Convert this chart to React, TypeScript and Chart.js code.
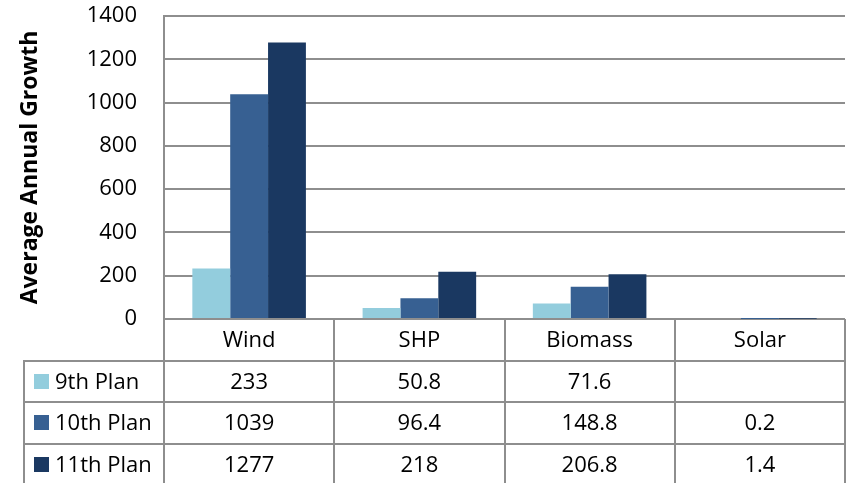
import { useEffect, useRef } from "react";
import { Chart, registerables } from "chart.js";

Chart.register(...registerables);

// ---- data ----
const categories = ["Wind", "SHP", "Biomass", "Solar"];
const seriesNames = ["9th Plan", "10th Plan", "11th Plan"];
const plan9: (number | null)[] = [233, 50.8, 71.6, null];
const plan10: (number | null)[] = [1039, 96.4, 148.8, 0.2];
const plan11: (number | null)[] = [1277, 218, 206.8, 1.4];
const seriesColors = ["#93CDDD", "#376092", "#1A3861"];
const yTitle = "Average Annual Growth";
const yMin = 0;
const yMax = 1400;
const yStep = 200;

const GRID = "#8E8E8E";
const FONT = "'Open Sans', Lato, sans-serif";

const tablePlugin = {
  id: "dataTable",
  afterDraw(chart: any) {
    const { ctx, chartArea, scales } = chart;
    const x = scales.x;
    const n = categories.length;
    const catW = (x.right - x.left) / n;
    const top = chartArea.bottom;
    const rowH = 41.5;
    const legendLeft = 24;
    const right = chartArea.right;
    const bottom = chart.height + 4;
    const datasets = chart.data.datasets;

    ctx.save();
    ctx.strokeStyle = GRID;
    ctx.lineWidth = 2;
    ctx.beginPath();
    for (let r = 1; r <= datasets.length; r++) {
      const y = Math.round(top + r * rowH);
      ctx.moveTo(legendLeft, y);
      ctx.lineTo(right, y);
    }
    for (let i = 0; i <= n; i++) {
      const bx = Math.round(x.left + i * catW);
      ctx.moveTo(bx, top);
      ctx.lineTo(bx, bottom);
    }
    ctx.moveTo(legendLeft, Math.round(top + rowH) - 1);
    ctx.lineTo(legendLeft, bottom);
    ctx.stroke();

    ctx.fillStyle = "#000";
    ctx.font = `22px ${FONT}`;
    ctx.textAlign = "center";
    ctx.textBaseline = "middle";
    categories.forEach((c, i) => {
      ctx.fillText(c, x.getPixelForValue(i), top + rowH / 2 + 1);
    });

    datasets.forEach((ds: any, r: number) => {
      const cy = top + (r + 1) * rowH + rowH / 2;
      ctx.fillStyle = ds.backgroundColor;
      ctx.fillRect(34, Math.round(cy - 7.5), 15, 15);
      ctx.fillStyle = "#000";
      ctx.textAlign = "left";
      ctx.fillText(ds.label, 55, cy + 1);
      ctx.textAlign = "center";
      ds.data.forEach((v: number | null, i: number) => {
        if (v === null || v === undefined) return;
        ctx.fillText(String(v), x.getPixelForValue(i), cy + 1);
      });
    });
    ctx.restore();
  },
};

export default function App() {
  const ref = useRef<HTMLCanvasElement>(null);

  useEffect(() => {
    if (!ref.current) return;
    const seriesData = [plan9, plan10, plan11];
    const chart = new Chart(ref.current, {
      type: "bar",
      data: {
        labels: categories,
        datasets: seriesNames.map((name, i) => ({
          label: name,
          data: seriesData[i],
          backgroundColor: seriesColors[i],
          borderWidth: 0,
          categoryPercentage: 0.667,
          barPercentage: 1.0,
        })),
      },
      options: {
        animation: false,
        responsive: true,
        maintainAspectRatio: false,
        devicePixelRatio: 1,
        layout: { padding: { top: 16, right: 5, bottom: 164, left: 0 } },
        plugins: {
          legend: { display: false },
          tooltip: { enabled: false },
          title: { display: false },
        },
        scales: {
          x: {
            display: false,
            offset: true,
            grid: { display: false },
          },
          y: {
            min: yMin,
            max: yMax,
            ticks: {
              stepSize: yStep,
              padding: 0,
              color: "#000",
              font: { family: FONT, size: 22 },
              callback: (v: any) => String(v),
            },
            grid: {
              color: GRID,
              lineWidth: 2,
              drawTicks: true,
              tickLength: 27,
              tickColor: "rgba(0,0,0,0)",
            },
            border: { display: true, color: GRID, width: 2 },
            title: {
              display: true,
              text: yTitle,
              color: "#000",
              font: { family: FONT, size: 23, weight: "bold", lineHeight: 1.2 },
              padding: { top: 16.7, bottom: 0 },
            },
            afterFit(scale: any) {
              scale.width = 164;
            },
          },
        },
      },
      plugins: [tablePlugin],
    });
    return () => chart.destroy();
  }, []);

  return (
    <div style={{ position: "absolute", left: 0, top: 0, width: 850, height: 483 }}>
      <canvas ref={ref} />
    </div>
  );
}
